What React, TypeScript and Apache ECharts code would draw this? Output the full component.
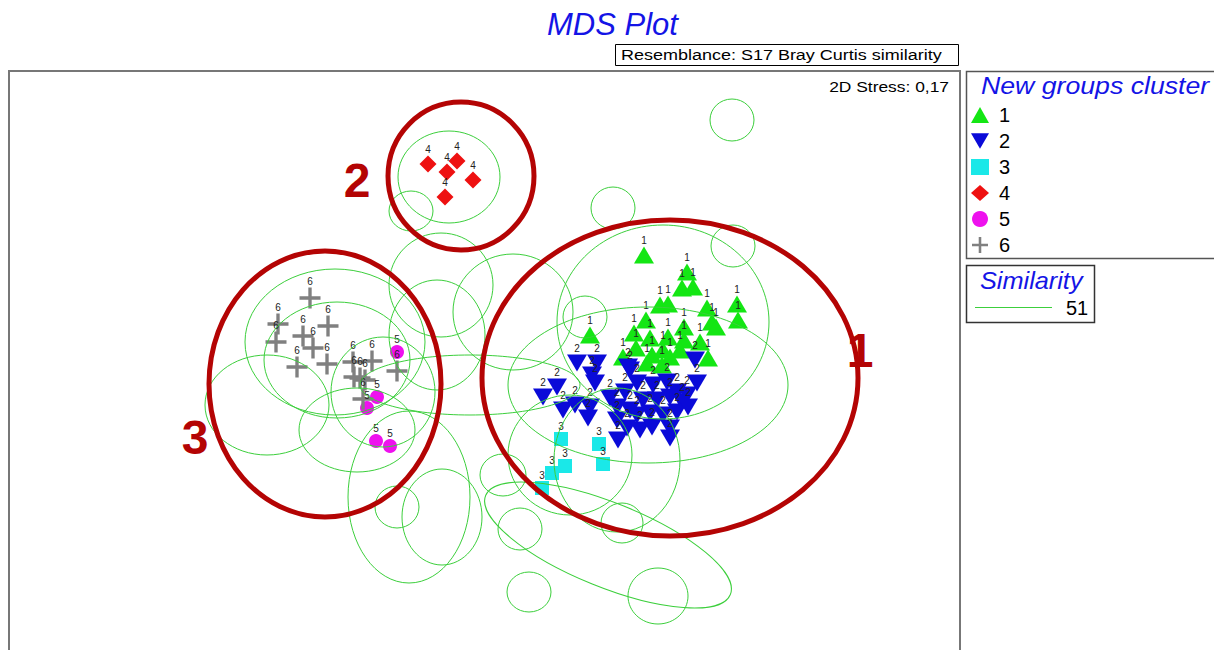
import React, { useEffect, useRef } from "react";
import * as echarts from "echarts";

const FONT = "'Liberation Sans', Arial, sans-serif";

// MDS coordinates (plot units; y grows downward on this configuration)
const groupNames = ["1", "2", "3", "4", "5", "6"];

const group1 = [
  [644, 255], [687, 272], [682, 288], [693, 287], [660, 305], [668, 304], [707, 308],
  [737, 304], [738, 320], [712, 322], [716, 327], [646, 320], [590, 335], [634, 333],
  [650, 338], [668, 337], [684, 327], [684, 340], [700, 342], [636, 348], [623, 357],
  [652, 355], [663, 350], [670, 357], [680, 350], [708, 358], [647, 363], [662, 365],
];
const group2 = [
  [577, 363], [597, 363], [557, 387], [543, 397], [592, 375], [595, 383], [630, 370],
  [637, 383], [653, 385], [667, 382], [677, 392], [687, 395], [697, 383], [563, 410],
  [575, 405], [590, 407], [588, 418], [610, 398], [617, 407], [625, 392], [630, 410],
  [643, 400], [657, 400], [670, 397], [682, 402], [637, 415], [650, 413], [663, 415],
  [677, 412], [688, 407], [617, 420], [627, 428], [640, 430], [652, 427], [670, 428],
  [618, 440], [670, 438], [695, 360], [628, 367],
];
const group3 = [[561, 439], [599, 444], [565, 466], [603, 464], [552, 473], [542, 488]];
const group4 = [[428, 164], [457, 161], [447, 172], [473, 180], [445, 197]];
const group5 = [[397, 352], [377, 397], [367, 408], [376, 441], [390, 446]];
const group6 = [
  [310, 298], [278, 324], [276, 342], [328, 326], [303, 336], [313, 348], [297, 367],
  [327, 364], [353, 362], [372, 361], [397, 371], [354, 377], [360, 378], [365, 380],
  [363, 399],
];
const groupData = [group1, group2, group3, group4, group5, group6];

// Similarity (51) contours: centre x, centre y, radius x, radius y, tilt (deg)
const contours = [
  [732, 120, 22, 21, 0], [613, 208, 22, 21, 0], [733, 246, 22, 21, 0],
  [449, 177, 51, 46, 0], [411, 211, 22, 20, 0], [441, 285, 52, 52, 0],
  [513, 312, 60, 58, 0], [437, 335, 48, 55, 0], [335, 342, 90, 73, 0],
  [337, 360, 73, 58, 0], [383, 392, 52, 55, 0], [267, 405, 62, 50, 0],
  [357, 430, 58, 42, 0], [409, 497, 61, 86, 0], [442, 517, 40, 48, 0],
  [397, 507, 22, 21, 0], [663, 322, 106, 97, 0], [585, 317, 22, 21, 0],
  [648, 385, 140, 78, 0], [570, 455, 62, 60, 0], [617, 460, 63, 72, 0],
  [503, 475, 23, 21, 0], [520, 529, 22, 21, 0], [529, 592, 22, 20, 0],
  [658, 596, 30, 28, 0], [622, 523, 21, 20, 0], [608, 545, 132, 42, -22],
  [470, 385, 110, 30, 0],
];

// Annotation rings and their numbers
const rings = [
  [461, 176, 73, 74], [325, 384, 116, 133], [670, 378, 188, 158],
];
const ringLabelPos = [[357, 180], [195, 437], [860, 350]];
const ringLabels = ["2", "3", "1"];

const stressText = "2D Stress: 0,17";
const resemblanceText = "Resemblance: S17 Bray Curtis similarity";
const similarityLevel = "51";

const colors = ["#14e614", "#0a0ad8", "#1ae8e8", "#ee1111", "#ee11ee", "#808080"];
const symbols = [
  "triangle",
  "path://M0,0L20,0L10,17Z",
  "rect",
  "diamond",
  "circle",
  "path://M8.4,0H11.6V20H8.4ZM0,8.4H20V11.6H0Z",
];
const sizes: any[] = [[20, 17], [20, 17], 14, 17, 14, 21];

const RED = "#b40404";
const GREEN_LINE = "#3ccf3c";

export default function App() {
  const ref = useRef<HTMLDivElement>(null);
  useEffect(() => {
    const chart = echarts.init(ref.current!, null, { renderer: "svg" });
    const scatterSeries = groupData.map((d, i) => ({
      type: "scatter",
      name: groupNames[i],
      data: d,
      symbol: symbols[i],
      symbolSize: sizes[i],
      itemStyle: { color: colors[i], opacity: 1 },
      label: {
        show: true,
        position: "top",
        distance: 1,
        formatter: groupNames[i],
        fontSize: 10,
        color: "#222",
        fontFamily: FONT,
      },
      emphasis: { disabled: true },
      z: 2,
    }));

    chart.setOption({
      animation: false,
      grid: {
        left: 9,
        top: 71,
        width: 951,
        height: 600,
        show: true,
        borderColor: "#777",
        borderWidth: 2,
        backgroundColor: "#fff",
      },
      xAxis: { type: "value", min: 9, max: 960, show: false },
      yAxis: { type: "value", min: 71, max: 671, inverse: true, show: false },
      legend: {
        orient: "vertical",
        left: 971,
        top: 105,
        itemWidth: 18,
        itemHeight: 16,
        itemGap: 6,
        padding: 0,
        selectedMode: false,
        data: groupNames,
        textStyle: { fontSize: 20, color: "#000", fontFamily: FONT, padding: [0, 0, 0, 5] },
      },
      series: [
        ...scatterSeries,
        {
          type: "custom",
          name: "contours",
          data: contours,
          z: 3,
          silent: true,
          renderItem: (params: any, api: any) => {
            const c = api.coord([api.value(0), api.value(1)]);
            const s = api.size([api.value(2), api.value(3)]);
            return {
              type: "ellipse",
              x: c[0],
              y: c[1],
              rotation: (api.value(4) * Math.PI) / 180,
              shape: { cx: 0, cy: 0, rx: Math.abs(s[0]), ry: Math.abs(s[1]) },
              style: { fill: "none", stroke: GREEN_LINE, lineWidth: 1 },
            };
          },
        },
        {
          type: "custom",
          name: "rings",
          data: rings,
          z: 4,
          silent: true,
          renderItem: (params: any, api: any) => {
            const c = api.coord([api.value(0), api.value(1)]);
            const s = api.size([api.value(2), api.value(3)]);
            return {
              type: "ellipse",
              shape: { cx: c[0], cy: c[1], rx: Math.abs(s[0]), ry: Math.abs(s[1]) },
              style: { fill: "none", stroke: RED, lineWidth: 5 },
            };
          },
        },
        {
          type: "custom",
          name: "ringLabels",
          data: ringLabelPos,
          z: 5,
          silent: true,
          renderItem: (params: any, api: any) => {
            const c = api.coord([api.value(0), api.value(1)]);
            return {
              type: "text",
              x: c[0],
              y: c[1],
              style: {
                text: ringLabels[params.dataIndex],
                fill: RED,
                fontSize: 48,
                fontWeight: "bold",
                fontFamily: FONT,
                align: "center",
                verticalAlign: "middle",
              },
            };
          },
        },
      ],
      graphic: [
        {
          type: "text",
          left: 547,
          top: 9,
          style: {
            text: "MDS Plot",
            fill: "#1414e6",
            fontSize: 31,
            fontStyle: "italic",
            fontFamily: FONT,
          },
        },
        {
          type: "rect",
          shape: { x: 615.5, y: 44.5, width: 343, height: 21 },
          style: { fill: "#fff", stroke: "#000", lineWidth: 1 },
        },
        {
          type: "text",
          x: 621,
          y: 55,
          scaleX: 1.2,
          style: {
            text: resemblanceText,
            fill: "#000",
            fontSize: 15,
            fontFamily: FONT,
            verticalAlign: "middle",
          },
        },
        {
          type: "text",
          x: 949,
          y: 86,
          scaleX: 1.16,
          style: {
            text: stressText,
            fill: "#000",
            fontSize: 15,
            fontFamily: FONT,
            align: "right",
            verticalAlign: "middle",
          },
        },
        {
          type: "rect",
          shape: { x: 966.5, y: 71.5, width: 252, height: 187 },
          style: { fill: "none", stroke: "#555", lineWidth: 1.5 },
        },
        {
          type: "text",
          x: 981,
          y: 86,
          scaleX: 1.16,
          style: {
            text: "New groups cluster",
            fill: "#1414e6",
            fontSize: 23,
            fontStyle: "italic",
            fontFamily: FONT,
            verticalAlign: "middle",
          },
        },
        {
          type: "rect",
          shape: { x: 966.5, y: 265.5, width: 128, height: 57 },
          style: { fill: "none", stroke: "#333", lineWidth: 1.5 },
        },
        {
          type: "text",
          x: 980,
          y: 281,
          scaleX: 1.1,
          style: {
            text: "Similarity",
            fill: "#1414e6",
            fontSize: 23,
            fontStyle: "italic",
            fontFamily: FONT,
            verticalAlign: "middle",
          },
        },
        {
          type: "line",
          shape: { x1: 975, y1: 307.5, x2: 1052, y2: 307.5 },
          style: { stroke: GREEN_LINE, lineWidth: 1.2 },
        },
        {
          type: "text",
          x: 1066,
          y: 308,
          style: {
            text: similarityLevel,
            fill: "#000",
            fontSize: 20,
            fontFamily: FONT,
            verticalAlign: "middle",
          },
        },
      ],
    });
    return () => chart.dispose();
  }, []);
  return (
    <div
      ref={ref}
      style={{ position: "fixed", left: 0, top: 0, width: 1214, height: 690, background: "#fff" }}
    />
  );
}
